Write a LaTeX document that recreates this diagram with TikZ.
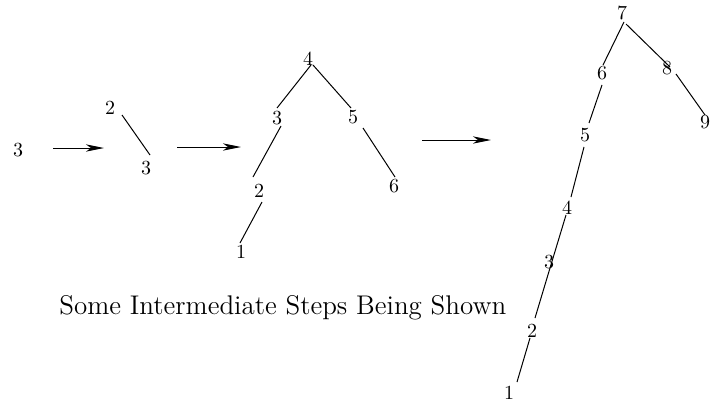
\documentclass[tikz,border=0pt]{standalone}
\usetikzlibrary{arrows.meta}
\begin{document}
\begin{tikzpicture}[x=0.5pt,y=-0.5pt,
  num/.style={inner sep=1pt,font=\fontsize{10}{12}\selectfont},
  edge/.style={line width=0.5pt},
  stepArrow/.style={line width=0.5pt,-{Stealth[length=9pt,width=3.6pt,inset=2.5pt]}}]
\useasboundingbox (0,0) rectangle (712,407);
% stage 1
\node[num] (a3) at (18,150) {3};
\coordinate (ar1s) at (53,148);
\coordinate (ar1e) at (104,148);
\draw[stepArrow] (ar1s) -- (ar1e);
% stage 2
\node[num] (b2) at (110,108) {2};
\node[num] (b3) at (146,168) {3};
\draw[edge] ([shift={(12,7)}]b2.center) -- ([shift={(4,-13)}]b3.center);
\coordinate (ar2s) at (177,147);
\coordinate (ar2e) at (241,147);
\draw[stepArrow] (ar2s) -- (ar2e);
% stage 3
\node[num] (c4) at (308,59) {4};
\node[num] (c3) at (277,118) {3};
\node[num] (c5) at (353,117) {5};
\node[num] (c2) at (259,191) {2};
\node[num] (c6) at (394,186) {6};
\node[num] (c1) at (241,252) {1};
\draw[edge] ([shift={(3,6)}]c4.center) -- ([shift={(0,-10)}]c3.center);
\draw[edge] ([shift={(5,6)}]c4.center) -- ([shift={(-2,-9)}]c5.center);
\draw[edge] ([shift={(4,8)}]c3.center) -- ([shift={(-6,-14)}]c2.center);
\draw[edge] ([shift={(10,11)}]c5.center) -- ([shift={(1,-9)}]c6.center);
\draw[edge] ([shift={(3,11)}]c2.center) -- ([shift={(-1,-9)}]c1.center);
\coordinate (ar3s) at (422,140);
\coordinate (ar3e) at (491,140);
\draw[stepArrow] (ar3s) -- (ar3e);
% stage 4
\node[num] (d7) at (622,13) {7};
\node[num] (d6) at (602,73) {6};
\node[num] (d8) at (667,68) {8};
\node[num] (d9) at (705,122) {9};
\node[num] (d5) at (585,135) {5};
\node[num] (d4) at (567,208) {4};
\node[num] (d3) at (549,262) {3};
\node[num] (d2) at (532,331) {2};
\node[num] (d1) at (509,393) {1};
\draw[edge] ([shift={(2,9)}]d7.center) -- ([shift={(1,-8)}]d6.center);
\draw[edge] ([shift={(4,11)}]d7.center) -- ([shift={(3,-1)}]d8.center);
\draw[edge] ([shift={(9,6)}]d8.center) -- ([shift={(0,-7)}]d9.center);
\draw[edge] ([shift={(0,12)}]d6.center) -- ([shift={(4,-12)}]d5.center);
\draw[edge] ([shift={(-1,12)}]d5.center) -- ([shift={(4,-11)}]d4.center);
\draw[edge] ([shift={(-1,7)}]d4.center) -- ([shift={(2.5,1)}]d3.center);
\draw[edge] ([shift={(2.5,1)}]d3.center) -- ([shift={(3,-13)}]d2.center);
\draw[edge] ([shift={(-2,7)}]d2.center) -- ([shift={(8,-11)}]d1.center);
% caption
\node[inner sep=0pt,anchor=base west,font=\fontsize{13.5}{16}\selectfont] (cap) at (59,314) {Some Intermediate Steps Being Shown};
\end{tikzpicture}
\end{document}
